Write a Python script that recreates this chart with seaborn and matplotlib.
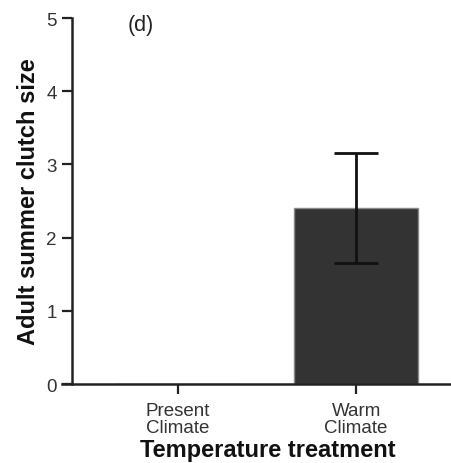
import matplotlib
matplotlib.use("Agg")
import matplotlib.pyplot as plt
import seaborn as sns
import pandas as pd

categories = ["Present\nClimate", "Warm\nClimate"]
means = [0.0, 2.40]
errors = [0.0, 0.75]
y_ticks = [0, 1, 2, 3, 4, 5]

sns.set_theme(style="ticks")
plt.rcParams["font.family"] = ["Liberation Sans", "DejaVu Sans"]

df = pd.DataFrame({"treatment": categories, "clutch": means})

fig = plt.figure(figsize=(4.52, 4.64), dpi=100)
ax = fig.add_axes([0.1593, 0.170, 0.865, 0.789])

sns.barplot(data=df, x="treatment", y="clutch", color="#333333",
            edgecolor="#8a8a8a", linewidth=1.0, width=0.7, saturation=1,
            errorbar=None, ax=ax)
ax.errorbar([1], [means[1]], yerr=[errors[1]], fmt="none", ecolor="#111111",
            elinewidth=2, capsize=16, capthick=2)

ax.set_xlim(-0.596, 1.60)
ax.set_ylim(0, 5)
ax.set_yticks(y_ticks)
ax.set_yticklabels([str(t) for t in y_ticks])
ax.set_xlabel("Temperature treatment", fontsize=17, fontweight="bold",
              labelpad=1.5, color="#111111")
ax.set_ylabel("Adult summer clutch size", fontsize=17, fontweight="bold",
              labelpad=4.5, color="#111111")
ax.tick_params(axis="both", labelsize=13.5, length=7, width=1.6,
               colors="#222222", labelcolor="#333333", pad=4)
ax.tick_params(axis="x", pad=6)
for t in ax.get_xticklabels():
    t.set_linespacing(0.95)
for side in ["top", "right"]:
    ax.spines[side].set_visible(False)
for side in ["left", "bottom"]:
    ax.spines[side].set_linewidth(1.8)
    ax.spines[side].set_color("#222222")
ax.spines["bottom"].set_bounds(-0.65, 1.60)

ax.text((128 - 72) / 391, 1.012, "(d)",
        transform=ax.transAxes, fontsize=15.5,
        ha="left", va="top", color="#222222")

fig.savefig("out.png", dpi=100)
